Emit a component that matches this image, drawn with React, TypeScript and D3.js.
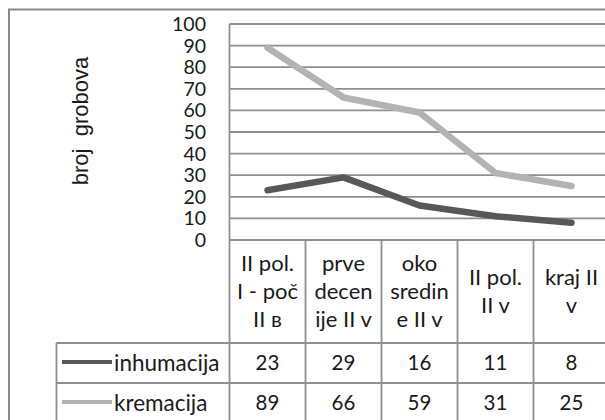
import React from 'react';
import * as d3 from 'd3';

// periods (column headers, split in lines like in the source table)
const periods = [
  ['II pol.', 'I - poč', 'II в'],
  ['prve', 'decen', 'ije II v'],
  ['oko', 'sredin', 'e II v'],
  ['II pol.', 'II v'],
  ['kraj II', 'v'],
];
const inhumacija = [23, 29, 16, 11, 8];
const kremacija = [89, 66, 59, 31, 25];
const yTicks = [0, 10, 20, 30, 40, 50, 60, 70, 80, 90, 100];

const W = 605;
const H = 420;
const plotLeft = 229.5;
const plotRight = 609.5;
const plotTop = 24;
const plotBottom = 240;
const headBottom = 343;
const row1Bottom = 383;
const row2Bottom = 423;
const legendLeft = 56.5;

const gridColor = '#8f8f8f';
const font = 'Lato, "DejaVu Sans", sans-serif';

export default function App() {
  const keys = periods.map((p, i) => 'p' + i);
  const x = d3.scaleBand<string>().domain(keys).range([plotLeft, plotRight]);
  const y = d3.scaleLinear().domain([0, 100]).range([plotBottom, plotTop]);

  const line = d3
    .line<number>()
    .x((d, i) => x(keys[i])! + x.bandwidth() / 2)
    .y((d) => y(d));

  const series = [
    { name: 'inhumacija', values: inhumacija, color: '#585858', rowY: (headBottom + row1Bottom) / 2 },
    { name: 'kremacija', values: kremacija, color: '#b3b3b3', rowY: (row1Bottom + row2Bottom) / 2 },
  ];

  const headCenter = (plotBottom + headBottom) / 2;
  const lh = 28;

  return (
    <svg
      width={W}
      height={H}
      style={{ position: 'absolute', left: 0, top: 0, background: '#fff' }}
      fontFamily={font}
    >
      {/* outer chart frame */}
      <rect x={9} y={9.5} width={640} height={460} fill="none" stroke="#8a8a8a" strokeWidth={2} />

      {/* gridlines */}
      {yTicks.map((t) => (
        <line key={t} x1={plotLeft} x2={plotRight} y1={y(t)} y2={y(t)} stroke={gridColor} strokeWidth={1.8} />
      ))}
      <line x1={plotLeft} x2={plotLeft} y1={plotTop} y2={row2Bottom} stroke={gridColor} strokeWidth={1.8} />

      {/* y tick labels */}
      {yTicks.map((t) => (
        <text key={t} x={206} y={y(t)} dy="0.36em" textAnchor="end" fontSize={19.5} fill="#1a1a1a">
          {t}
        </text>
      ))}

      {/* axis title */}
      <text
        transform={`translate(88,121) rotate(-90)`}
        textAnchor="middle"
        fontSize={22}
        fontFamily='"Liberation Sans", Arial, sans-serif'
        fill="#1a1a1a"
        style={{ whiteSpace: 'pre' }}
      >
        {'broj  grobova'}
      </text>

      {/* data table */}
      {keys.map((k) => (
        <line key={k} x1={x(k)! + x.bandwidth()} x2={x(k)! + x.bandwidth()} y1={plotBottom} y2={row2Bottom} stroke={gridColor} strokeWidth={1.8} />
      ))}
      <line x1={legendLeft} x2={plotRight} y1={headBottom} y2={headBottom} stroke={gridColor} strokeWidth={1.8} />
      <line x1={legendLeft} x2={plotRight} y1={row1Bottom} y2={row1Bottom} stroke={gridColor} strokeWidth={1.8} />
      <line x1={legendLeft} x2={legendLeft} y1={headBottom} y2={row2Bottom} stroke={gridColor} strokeWidth={1.8} />

      {periods.map((lines, i) => (
        <g key={i}>
          {lines.map((s, j) => (
            <text
              key={j}
              x={x(keys[i])! + x.bandwidth() / 2}
              y={headCenter + (j - (lines.length - 1) / 2) * lh + 7}
              textAnchor="middle"
              fontSize={22}
              fill="#1a1a1a"
            >
              {s}
            </text>
          ))}
        </g>
      ))}

      {series.map((s) => (
        <g key={s.name}>
          <line x1={62} x2={112} y1={s.rowY - 1} y2={s.rowY - 1} stroke={s.color} strokeWidth={4} />
          <text x={114} y={s.rowY} dy="0.36em" fontSize={22.5} fill="#1a1a1a">
            {s.name}
          </text>
          {s.values.map((v, i) => (
            <text key={i} x={x(keys[i])! + x.bandwidth() / 2} y={s.rowY} dy="0.36em" textAnchor="middle" fontSize={20.5} fill="#1a1a1a">
              {v}
            </text>
          ))}
        </g>
      ))}

      {/* lines */}
      {series.map((s) => (
        <path
          key={s.name}
          d={line(s.values)!}
          fill="none"
          stroke={s.color}
          strokeWidth={6.5}
          strokeLinejoin="round"
          strokeLinecap="round"
        />
      ))}
    </svg>
  );
}
